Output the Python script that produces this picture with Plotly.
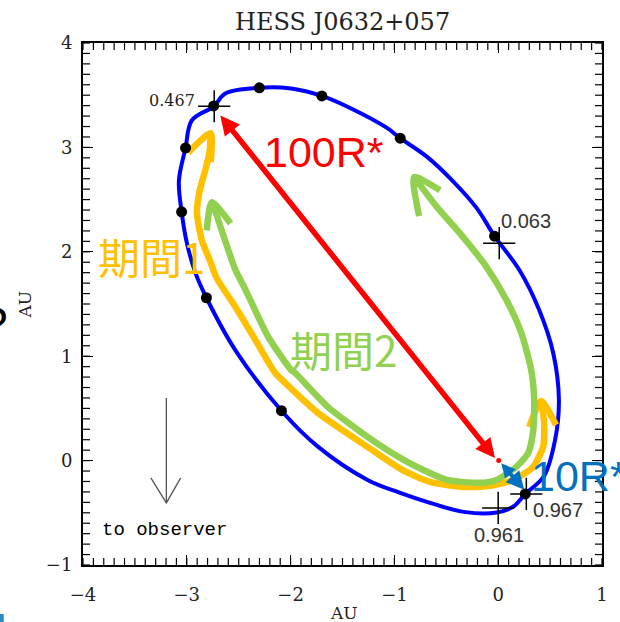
import plotly.graph_objects as go

# ---------------- data (AU) ----------------
orbit_x = [-2.741, -2.629, -2.301, -1.995, -1.699, -1.422, -1.068, -0.944, -0.685, -0.430,
           -0.207, -0.035, 0.204, 0.395, 0.530, 0.585, 0.548, 0.440, 0.261, 0.146,
           -0.016, -0.332, -0.657, -0.944, -1.259, -1.737, -2.088, -2.533, -2.811, -2.916,
           -2.999, -3.050, -3.076, -3.012, -2.951, -2.741]
orbit_y = [3.393, 3.516, 3.571, 3.564, 3.493, 3.375, 3.184, 3.088, 2.909, 2.670,
           2.418, 2.150, 1.825, 1.442, 1.031, 0.581, 0.198, -0.150, -0.319, -0.440,
           -0.498, -0.491, -0.405, -0.309, -0.185, 0.134, 0.478, 1.059, 1.560, 1.796,
           2.083, 2.383, 2.683, 2.995, 3.260, 3.393]

dots_x = [-2.741, -2.301, -1.699, -0.944, -0.035, 0.261, -2.088, -2.811, -3.050, -3.012]
dots_y = [3.397, 3.571, 3.493, 3.088, 2.150, -0.319, 0.478, 1.560, 2.383, 2.995]

cross_x = [-2.736, 0.010, 0.000, 0.271]
cross_y = [3.394, 2.083, -0.453, -0.319]
cross_labels = ["0.467", "0.063", "0.961", "0.967"]

orange_x = [-2.770, -2.779, -2.817, -2.875, -2.903, -2.856, -2.779, -2.712, -2.531, -2.339,
            -2.148, -2.053, -1.737, -1.259, -0.924, -0.657, -0.332, -0.083, 0.146, 0.337,
            0.433, 0.443, 0.414]
orange_y = [3.136, 2.973, 2.801, 2.591, 2.380, 2.112, 1.921, 1.748, 1.471, 1.155,
            0.839, 0.744, 0.457, 0.131, -0.089, -0.204, -0.252, -0.242, -0.185, -0.060,
            0.131, 0.361, 0.571]
orange_head1_x = [-2.988, -2.770, -2.770]
orange_head1_y = [2.949, 3.136, 2.858]
orange_head2_x = [0.299, 0.414, 0.557]
orange_head2_y = [0.322, 0.571, 0.341]

green_x = [-2.760, -2.712, -2.626, -2.531, -2.433, -2.215, -1.995, -1.957, -1.642, -1.259,
           -0.877, -0.494, -0.179, -0.016, 0.175, 0.290, 0.338, 0.347, 0.318, 0.223,
           0.079, -0.112, -0.370, -0.590, -0.810]
green_y = [2.474, 2.350, 2.092, 1.825, 1.633, 1.184, 0.868, 0.840, 0.515, 0.227,
           -0.012, -0.185, -0.213, -0.185, -0.060, 0.074, 0.294, 0.581, 0.868, 1.222,
           1.538, 1.854, 2.179, 2.428, 2.715]
green_head1_x = [-2.808, -2.760, -2.578]
green_head1_y = [2.205, 2.474, 2.272]
green_head2_x = [-0.561, -0.810, -0.762]
green_head2_y = [2.590, 2.715, 2.342]

red_arrow = {"x0": -0.02, "y0": 0.01, "x1": -2.677, "y1": 3.306}
blue_arrow = {"x0": 0.017, "y0": -0.012, "x1": 0.251, "y1": -0.280}
star = {"x": 0.005, "y": 0.0}

obs_line_x = [-3.197, -3.197]
obs_line_y = [0.600, -0.405]
obs_head_x = [-3.346, -3.197, -3.059]
obs_head_y = [-0.166, -0.405, -0.166]

x_range = [-4, 1]
y_range = [-1, 4]
major_step = 1
minor_per_major = 10

BLUE = "#0000FF"
ORANGE = "#FFC000"
GREEN = "#92D050"
RED = "#FF0000"
BLUE2 = "#0070C0"


def minor_positions(rng, n):
    lo, hi = rng
    k = int(round((hi - lo) * n))
    return [round(lo + i / n, 3) for i in range(k + 1)]


x_minor = minor_positions(x_range, minor_per_major)
y_minor = minor_positions(y_range, minor_per_major)

# ---------------- figure ----------------
W, H = 620, 622
ML, MR, MT, MB = 83, 13, 43, 57
PW, PH = W - ML - MR, H - MT - MB


def px(xp):
    return (xp - ML) / PW


def py(yp):
    return (H - MB - yp) / PH


fig = go.Figure()

fig.add_trace(go.Scatter(x=orbit_x, y=orbit_y, mode="lines",
                         line=dict(color=BLUE, width=4, shape="spline", smoothing=1.0),
                         hoverinfo="skip"))

for xs, ys, col in [(orange_x, orange_y, ORANGE), (orange_head1_x, orange_head1_y, ORANGE),
                    (orange_head2_x, orange_head2_y, ORANGE),
                    (green_x, green_y, GREEN), (green_head1_x, green_head1_y, GREEN),
                    (green_head2_x, green_head2_y, GREEN)]:
    fig.add_trace(go.Scatter(x=xs, y=ys, mode="lines",
                             line=dict(color=col, width=6.5, shape="spline", smoothing=0.6),
                             hoverinfo="skip"))

fig.add_trace(go.Scatter(x=obs_line_x, y=obs_line_y, mode="lines",
                         line=dict(color="#555555", width=1.3), hoverinfo="skip"))
fig.add_trace(go.Scatter(x=obs_head_x, y=obs_head_y, mode="lines",
                         line=dict(color="#555555", width=1.3), hoverinfo="skip"))

fig.add_trace(go.Scatter(x=dots_x, y=dots_y, mode="markers",
                         marker=dict(color="black", size=11), hoverinfo="skip"))
fig.add_trace(go.Scatter(x=cross_x, y=cross_y, mode="markers",
                         marker=dict(symbol="cross-thin", size=23, color="black",
                                     line=dict(color="black", width=1.5)),
                         hoverinfo="skip"))
fig.add_trace(go.Scatter(x=[star["x"]], y=[star["y"]], mode="markers",
                         marker=dict(color=RED, size=5), hoverinfo="skip"))

# minor ticks on all four sides (half of each centred marker is clipped by the plot area)
tick_marker_ns = dict(symbol="line-ns-open", size=10, color="black",
                      line=dict(color="black", width=1.2))
tick_marker_ew = dict(symbol="line-ew-open", size=10, color="black",
                      line=dict(color="black", width=1.2))
for yy in y_range:
    fig.add_trace(go.Scatter(x=x_minor, y=[yy] * len(x_minor), mode="markers",
                             marker=tick_marker_ns, cliponaxis=True, hoverinfo="skip"))
for xx in x_range:
    fig.add_trace(go.Scatter(x=[xx] * len(y_minor), y=y_minor, mode="markers",
                             marker=tick_marker_ew, cliponaxis=True, hoverinfo="skip"))

annotations = []
# arrows
annotations.append(dict(x=red_arrow["x1"], y=red_arrow["y1"], ax=red_arrow["x0"], ay=red_arrow["y0"],
                        xref="x", yref="y", axref="x", ayref="y", text="", showarrow=True,
                        arrowhead=2, startarrowhead=2, arrowside="end+start",
                        arrowsize=0.7, startarrowsize=0.7, arrowwidth=5.5, arrowcolor=RED,
                        standoff=0, startstandoff=0))
annotations.append(dict(x=blue_arrow["x1"], y=blue_arrow["y1"], ax=blue_arrow["x0"], ay=blue_arrow["y0"],
                        xref="x", yref="y", axref="x", ayref="y", text="", showarrow=True,
                        arrowhead=2, startarrowhead=2, arrowside="end+start",
                        arrowsize=0.9, startarrowsize=0.7, arrowwidth=4, arrowcolor=BLUE2,
                        standoff=0, startstandoff=0))

# cross labels
annotations.append(dict(x=-2.903, y=3.447, xref="x", yref="y", text=cross_labels[0],
                        showarrow=False, xanchor="right", yanchor="middle",
                        font=dict(family="DejaVu Serif", size=16, color="#222222")))
annotations.append(dict(x=0.012, y=2.294, xref="x", yref="y", text=cross_labels[1],
                        showarrow=False, xanchor="left", yanchor="middle",
                        font=dict(family="Liberation Sans", size=20, color="#333333")))
annotations.append(dict(x=0.008, y=-0.711, xref="x", yref="y", text=cross_labels[2],
                        showarrow=False, xanchor="center", yanchor="middle",
                        font=dict(family="Liberation Sans", size=20, color="#333333")))
annotations.append(dict(x=0.318, y=-0.475, xref="x", yref="y", text=cross_labels[3],
                        showarrow=False, xanchor="left", yanchor="middle",
                        font=dict(family="Liberation Sans", size=20, color="#333333")))

# big coloured labels
annotations.append(dict(x=-1.675, y=2.954, xref="x", yref="y", text="100R*",
                        showarrow=False, xanchor="center", yanchor="middle",
                        font=dict(family="Liberation Sans", size=43, color=RED)))
annotations.append(dict(x=0.300, y=-0.150, xref="x", yref="y", text="10R*",
                        showarrow=False, xanchor="left", yanchor="middle",
                        font=dict(family="Liberation Sans", size=43, color=BLUE2)))
annotations.append(dict(x=-3.338, y=1.968, xref="x", yref="y", text="期間1",
                        showarrow=False, xanchor="center", yanchor="middle",
                        font=dict(family="Noto Sans CJK JP", size=42, color=ORANGE)))
annotations.append(dict(x=-1.489, y=1.078, xref="x", yref="y", text="期間2",
                        showarrow=False, xanchor="center", yanchor="middle",
                        font=dict(family="Noto Sans CJK JP", size=42, color=GREEN)))

annotations.append(dict(x=-3.214, y=-0.663, xref="x", yref="y", text="to observer",
                        showarrow=False, xanchor="center", yanchor="middle",
                        font=dict(family="Liberation Mono", size=19, color="black")))

# title and axis titles
annotations.append(dict(x=px(345), y=py(22), xref="paper", yref="paper", text="HESS J0632+057",
                        showarrow=False, xanchor="center", yanchor="middle",
                        font=dict(family="DejaVu Serif", size=24, color="#222222")))
annotations.append(dict(x=px(347), y=py(613), xref="paper", yref="paper", text="AU",
                        showarrow=False, xanchor="center", yanchor="middle",
                        font=dict(family="DejaVu Serif", size=17, color="#222222")))
annotations.append(dict(x=px(24), y=py(305), xref="paper", yref="paper", text="AU",
                        showarrow=False, xanchor="center", yanchor="middle", textangle=-90,
                        font=dict(family="DejaVu Serif", size=17, color="#222222")))
# clipped glyph at the left edge of the slide
annotations.append(dict(x=px(9), y=py(324), xref="paper", yref="paper", text="?",
                        showarrow=False, xanchor="right", yanchor="middle",
                        font=dict(family="Liberation Sans", size=48, color="black")))

shapes = [dict(type="rect", xref="paper", yref="paper", x0=px(-5), x1=px(3), y0=py(626), y1=py(614),
               fillcolor="#2B8CC4", line=dict(width=0))]

axis_common = dict(
    showgrid=False, zeroline=False, showline=True, linecolor="black", linewidth=2,
    mirror="allticks", ticks="inside", ticklen=10, tickwidth=1.3, tickcolor="black",
    tickmode="linear", tick0=0, dtick=major_step,
    tickfont=dict(family="DejaVu Serif", size=18, color="#222222"),
)

fig.update_layout(
    width=W, height=H,
    margin=dict(l=ML, r=MR, t=MT, b=MB),
    paper_bgcolor="white", plot_bgcolor="white",
    showlegend=False,
    xaxis=dict(range=x_range, ticklabelstandoff=12, **axis_common),
    yaxis=dict(range=y_range, ticklabelstandoff=5, **axis_common),
    annotations=annotations,
    shapes=shapes,
)

fig.write_html("out.html")
